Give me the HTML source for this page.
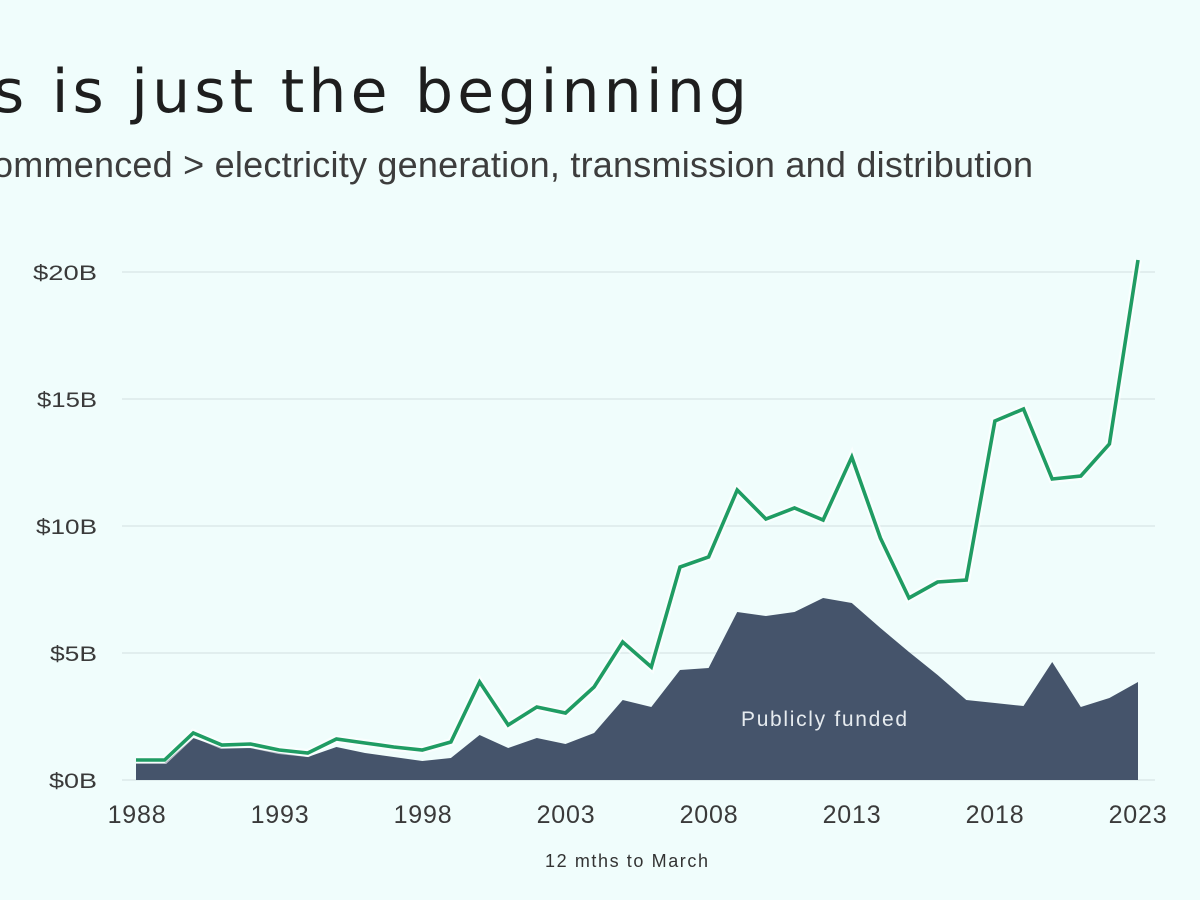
<!DOCTYPE html>
<html>
<head>
<meta charset="utf-8">
<style>
  html, body { margin: 0; padding: 0; }
  body { width: 1200px; height: 900px; background: #f0fdfc; overflow: hidden; }
  svg { display: block; }
  text { font-family: "Liberation Sans", "DejaVu Sans", sans-serif; }
</style>
</head>
<body>
<svg width="1200" height="900" viewBox="0 0 1200 900" xmlns="http://www.w3.org/2000/svg">
  <rect x="0" y="0" width="1200" height="900" fill="#f0fdfc"/>

  <!-- Title & subtitle -->
  <text x="-7" y="112" font-size="60" fill="#1e1e1e" style="font-family:'DejaVu Sans','Liberation Sans',sans-serif" textLength="754" lengthAdjust="spacing">s is just the beginning</text>
  <text x="-7" y="177" font-size="36" fill="#3d3d3d" textLength="1040" lengthAdjust="spacing">ommenced &gt; electricity generation, transmission and distribution</text>

  <!-- Gridlines -->
  <g stroke="#dce9e9" stroke-width="1.5">
    <line x1="122" y1="272" x2="1155" y2="272"/>
    <line x1="122" y1="399" x2="1155" y2="399"/>
    <line x1="122" y1="526" x2="1155" y2="526"/>
    <line x1="122" y1="653" x2="1155" y2="653"/>
    <line x1="122" y1="780" x2="1155" y2="780"/>
  </g>

  <!-- Y labels -->
  <g font-size="21" fill="#3a3a3a" style="font-family:'DejaVu Sans','Liberation Sans',sans-serif">
    <text x="33" y="280" textLength="64" lengthAdjust="spacingAndGlyphs">$20B</text>
    <text x="37" y="407" textLength="60" lengthAdjust="spacingAndGlyphs">$15B</text>
    <text x="36" y="534" textLength="61" lengthAdjust="spacingAndGlyphs">$10B</text>
    <text x="50" y="661" textLength="47" lengthAdjust="spacingAndGlyphs">$5B</text>
    <text x="49" y="788" textLength="48" lengthAdjust="spacingAndGlyphs">$0B</text>
  </g>

  <!-- X labels -->
  <g font-size="25" fill="#3a3a3a" text-anchor="middle" letter-spacing="0.8">
    <text x="137" y="823">1988</text>
    <text x="280" y="823">1993</text>
    <text x="423" y="823">1998</text>
    <text x="566" y="823">2003</text>
    <text x="709" y="823">2008</text>
    <text x="852" y="823">2013</text>
    <text x="995" y="823">2018</text>
    <text x="1138" y="823">2023</text>
  </g>
  <text x="545" y="867" font-size="18" fill="#333" textLength="163" lengthAdjust="spacing">12 mths to March</text>

  <!-- Publicly funded area -->
  <polygon fill="#45546b" points="
    136,780 136,763 164.6,763 193.3,738 221.9,748 250.5,748 279.2,753 307.8,757 336.4,747 365,753 393.7,757
    422.3,761 450.9,758 479.6,735 508.2,748 536.8,738 565.5,744 594.1,733 622.7,700 651.3,707 680,670
    708.6,668 737.2,612 765.9,616 794.5,612 823.1,598 851.8,603 880.4,628 909,652 937.6,675 966.3,700
    994.9,703 1023.5,706 1052.2,662 1080.8,707 1109.4,698 1138,682 1138,780"/>

  <text x="741" y="726" font-size="21" fill="#e6ebef" textLength="166" lengthAdjust="spacing">Publicly funded</text>

  <!-- Total line halo -->
  <polyline fill="none" stroke="#ffffff" stroke-opacity="0.6" stroke-width="8" stroke-linejoin="miter" points="
    136,760 164.6,760 193.3,733 221.9,745 250.5,744 279.2,750 307.8,753 336.4,739 365,743 393.7,747 422.3,750
    450.9,742 479.6,682 508.2,725 536.8,707 565.5,713 594.1,687 622.7,642 651.3,667 680,567 708.6,557
    737.2,490 765.9,519 794.5,508 823.1,520 851.8,457 880.4,538 909,598 937.6,582 966.3,580 994.9,421
    1023.5,409 1052.2,479 1080.8,476 1109.4,444 1138,260"/>
  <!-- Total line -->
  <polyline fill="none" stroke="#1f9c63" stroke-width="3.6" stroke-linejoin="miter" stroke-miterlimit="4" points="
    136,760 164.6,760 193.3,733 221.9,745 250.5,744 279.2,750 307.8,753 336.4,739 365,743 393.7,747 422.3,750
    450.9,742 479.6,682 508.2,725 536.8,707 565.5,713 594.1,687 622.7,642 651.3,667 680,567 708.6,557
    737.2,490 765.9,519 794.5,508 823.1,520 851.8,457 880.4,538 909,598 937.6,582 966.3,580 994.9,421
    1023.5,409 1052.2,479 1080.8,476 1109.4,444 1138,260"/>
</svg>
</body>
</html>
